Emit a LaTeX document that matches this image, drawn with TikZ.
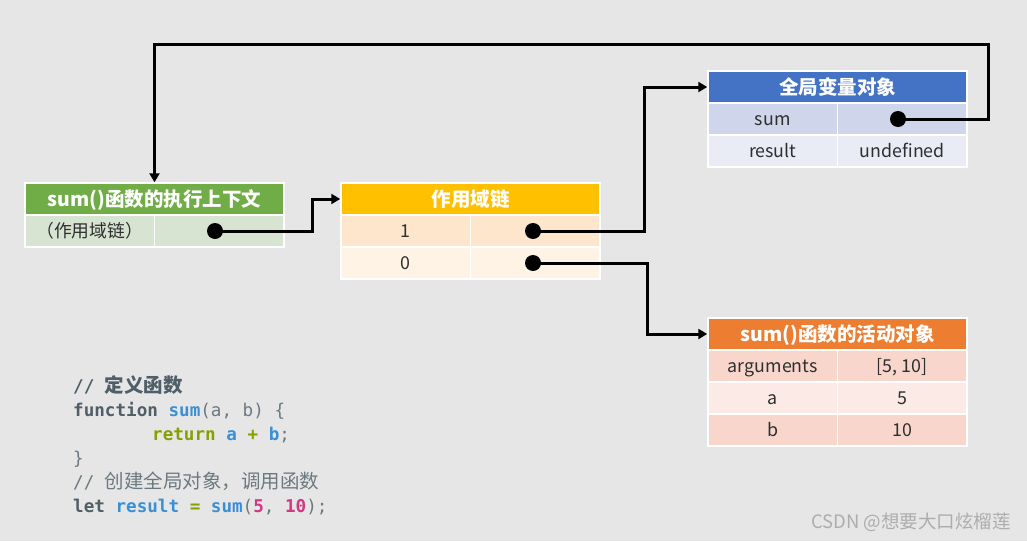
\documentclass[tikz,border=0pt]{standalone}
\usepackage{fontspec}
\setmainfont{Noto Sans CJK SC}
\setmonofont{DejaVu Sans Mono}
\newfontfamily\cjk{Noto Sans CJK SC}
\usetikzlibrary{arrows.meta,calc}
\definecolor{BackClr}{HTML}{E6E6E6}
\definecolor{TxtClr}{HTML}{2F2F2F}
\definecolor{GreenHd}{HTML}{70AD47}
\definecolor{GreenRw}{HTML}{D7E4D1}
\definecolor{GoldHd}{HTML}{FFC000}
\definecolor{GoldRwA}{HTML}{FDE6CC}
\definecolor{GoldRwB}{HTML}{FFF3E6}
\definecolor{BlueHd}{HTML}{4472C4}
\definecolor{BlueRwA}{HTML}{CFD5EA}
\definecolor{BlueRwB}{HTML}{E9EBF5}
\definecolor{OrngHd}{HTML}{ED7D31}
\definecolor{OrngRwA}{HTML}{F8D6CB}
\definecolor{OrngRwB}{HTML}{FBEAE6}
\definecolor{CodeDark}{HTML}{4F5F67}
\definecolor{CodeGray}{HTML}{6B7A80}
\definecolor{CodeBlue}{HTML}{3A8FD6}
\definecolor{CodeGreen}{HTML}{86A000}
\definecolor{CodePink}{HTML}{D33682}
\newcommand{\zh}[1]{{\cjk\fontsize{19.5}{24}\selectfont #1}}
\newcommand{\cb}[1]{\textcolor{CodeBlue}{\textbf{#1}}}
\newcommand{\cg}[1]{\textcolor{CodeGreen}{\textbf{#1}}}
\newcommand{\cp}[1]{\textcolor{CodePink}{\textbf{#1}}}

\begin{document}
\begin{tikzpicture}[x=1pt,y=-1pt,
  hdr/.style={draw=white,line width=1.5pt,minimum width=259pt,minimum height=32pt,
    inner sep=0pt,text height=16pt,text depth=2pt,text=white,
    font=\fontsize{19.5}{19.5}\selectfont\bfseries},
  cell/.style={draw=white,line width=1.5pt,minimum width=129.5pt,minimum height=32pt,
    inner sep=0pt,text height=15pt,text depth=2pt,text=TxtClr,
    font=\fontsize{17.8}{17.8}\selectfont},
  dot/.style={circle,fill=black,minimum size=16pt,inner sep=0pt},
  link/.style={line width=3pt,-{Triangle[length=9pt,width=10pt]}},
  code/.style={anchor=base west,inner sep=0pt,text=CodeGray,
    font=\ttfamily\fontsize{17.6}{24}\selectfont}]

\useasboundingbox (0,0) rectangle (1027,541);
\fill[BackClr] (0,0) rectangle (1027,541);

% execution context
\node[hdr,fill=GreenHd] (ec) at (154.5,199) {sum()函数的执行上下文};
\node[cell,fill=GreenRw] (ecA) at (89.75,231) {（作用域链）};
\node[cell,fill=GreenRw] (ecB) at (219.25,231) {};

% scope chain
\node[hdr,fill=GoldHd] (sc) at (470.5,199) {作用域链};
\node[cell,fill=GoldRwA] (scA) at (405.75,231) {1};
\node[cell,fill=GoldRwA] (scB) at (535.25,231) {};
\node[cell,fill=GoldRwB] (scC) at (405.75,263) {0};
\node[cell,fill=GoldRwB] (scD) at (535.25,263) {};

% global object
\node[hdr,fill=BlueHd] (go) at (837.5,87) {全局变量对象};
\node[cell,fill=BlueRwA] (goA) at (772.75,119) {sum};
\node[cell,fill=BlueRwA] (goB) at (902.25,119) {};
\node[cell,fill=BlueRwB] (goC) at (772.75,151) {result};
\node[cell,fill=BlueRwB] (goD) at (902.25,151) {undefined};

% activation object
\node[hdr,fill=OrngHd] (ao) at (837.5,334) {sum()函数的活动对象};
\node[cell,fill=OrngRwA] (aoA) at (772.75,366) {arguments};
\node[cell,fill=OrngRwA] (aoB) at (902.25,366) {[5, 10]};
\node[cell,fill=OrngRwB] (aoC) at (772.75,398) {a};
\node[cell,fill=OrngRwB] (aoD) at (902.25,398) {5};
\node[cell,fill=OrngRwA] (aoE) at (772.75,430) {b};
\node[cell,fill=OrngRwA] (aoF) at (902.25,430) {10};

% pointers
\node[dot] (d1) at (215,231) {};
\node[dot] (d2) at (533,231) {};
\node[dot] (d3) at (533,263) {};
\node[dot] (d4) at (898,119) {};

\draw[link] (d1.center) -- ++(97,0) |- (sc.west);
\draw[link] (d2.center) -- ++(111,0) |- (go.west);
\draw[link] (d3.center) -- ++(114,0) |- (ao.west);
\draw[link] (d4.center) -- ++(90,0) |- ([yshift=138pt]ec.north) -- (ec.north);

% code
\node[code] (c1) at (73,392) {\textcolor{CodeDark}{\textbf{// \zh{定义函数}}}};
\node[code] (c2) at (73,416) {\textcolor{CodeDark}{\textbf{function}} \cb{sum}(a, b) \{};
\node[code] (c3) at (73,440) {\hspace*{79pt}\cg{return} \cb{a} \cg{+} \cb{b};};
\node[code] (c4) at (73,464) {\}};
\node[code] (c5) at (73,488) {// \zh{创建全局对象，调用函数}};
\node[code] (c6) at (73,512) {\textcolor{CodeDark}{\textbf{let}} \cb{result} \cg{=} \cb{sum}(\cp{5}, \cp{10});};

\node[anchor=east,inner sep=0pt,text=black!32,font=\fontsize{18.5}{18.5}\selectfont] (mark) at (1011,522) {CSDN @想要大口炫榴莲};
\end{tikzpicture}
\end{document}
